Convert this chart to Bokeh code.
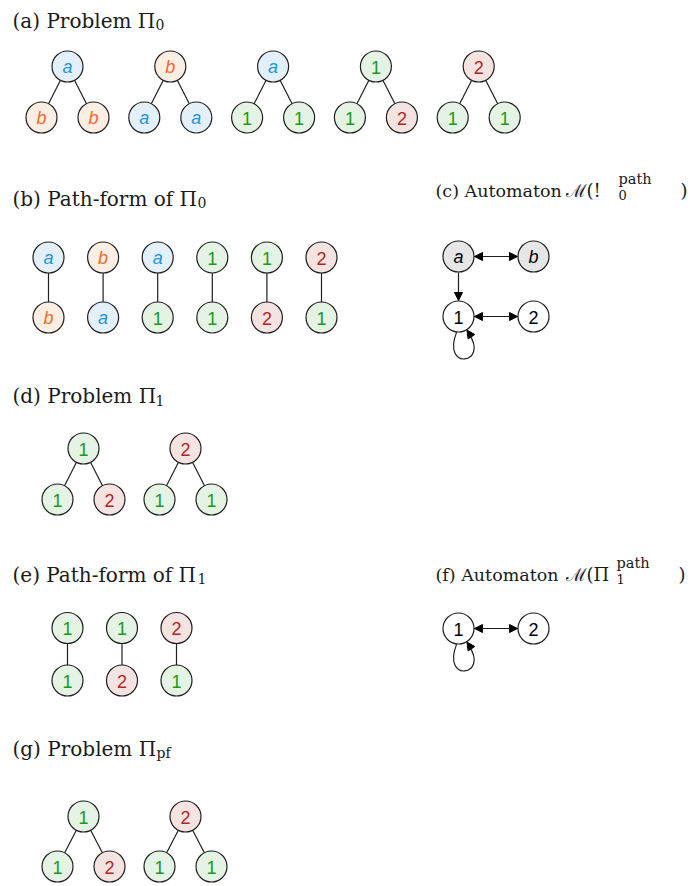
from bokeh.plotting import figure
from bokeh.models import Range1d, Arrow, NormalHead
from bokeh.core.properties import value
from bokeh.embed import file_html
from bokeh.resources import INLINE
import math

# ---------------- data ----------------
# (a) Problem Pi_0 : root / left child / right child
p0_root = ["a", "b", "a", "1", "2"]
p0_left = ["b", "a", "1", "1", "1"]
p0_right = ["b", "a", "1", "2", "1"]
# (b) Path-form of Pi_0
path0_top = ["a", "b", "a", "1", "1", "2"]
path0_bottom = ["b", "a", "1", "1", "2", "1"]
# (d) Problem Pi_1
p1_root = ["1", "2"]
p1_left = ["1", "1"]
p1_right = ["2", "1"]
# (e) Path-form of Pi_1
path1_top = ["1", "1", "2"]
path1_bottom = ["1", "2", "1"]
# (g) Problem Pi_pf
pf_root = ["1", "2"]
pf_left = ["1", "1"]
pf_right = ["2", "1"]
# (c) automaton M(Pi_0^path) and (f) automaton M(Pi_1^path)
m0_nodes = ["a", "b", "1", "2"]
m0_edges = [("a", "b", "both"), ("a", "1", "end"), ("1", "2", "both"), ("1", "1", "loop")]
m1_nodes = ["1", "2"]
m1_edges = [("1", "2", "both"), ("1", "1", "loop")]

titles_left = ["(a) Problem Π", "(b) Path-form of Π", "(d) Problem Π", "(e) Path-form of Π", "(g) Problem Π"]
titles_left_sub = ["0", "0", "1", "1", "pf"]
titles_right_a = ["(c) Automaton", "(f) Automaton"]
titles_right_b = ["ℳ(!", "ℳ(Π"]
titles_right_sup = ["path", "path"]
titles_right_sub = ["0", "1"]

# ---------------- style ----------------
FILL = {"a": "#e3f0fa", "b": "#fdeee3", "1": "#e4f3e4", "2": "#f5e3e1"}
TXT = {"a": "#1f94dc", "b": "#f26a2a", "1": "#1a9a1a", "2": "#b3261e"}
EDGE = "#1e1e1e"
TCOL = "#1a1a1a"
R = 16
NODE_SIZE = 31
LABEL_FONT = value("Liberation Sans")
TITLE_FONT = value("DejaVu Serif")

W, H = 691, 886
p = figure(width=W, height=H, output_backend="svg", toolbar_location=None,
           x_range=Range1d(0, W), y_range=Range1d(H, 0),
           x_axis_type=None, y_axis_type=None, min_border=0,
           background_fill_color="white", border_fill_color="white")
p.outline_line_color = None
p.grid.visible = False


def draw_nodes(xs, ys, labels, fills=None, colors=None):
    fills = fills or [FILL[l] for l in labels]
    colors = colors or [TXT[l] for l in labels]
    p.scatter(xs, ys, size=NODE_SIZE, marker="circle", fill_color=fills,
              line_color=EDGE, line_width=1.2)
    for xx, yy, l, c in zip(xs, ys, labels, colors):
        p.text([xx], [yy + 0.5], text=[l], text_align="center", text_baseline="middle",
               text_font=LABEL_FONT, text_font_size="18px", text_color=c,
               text_font_style="italic" if l.isalpha() else "normal")


def draw_trees(roots, lefts, rights, x0, y0, dx, half, dy):
    rx = [x0 + i * dx for i in range(len(roots))]
    ry = [y0] * len(roots)
    lx = [x - half for x in rx]
    rrx = [x + half for x in rx]
    cy = [y0 + dy] * len(roots)
    p.segment(rx + rx, ry + ry, lx + rrx, cy + cy, line_color=EDGE, line_width=1.2)
    draw_nodes(rx, ry, roots)
    draw_nodes(lx, cy, lefts)
    draw_nodes(rrx, cy, rights)


def draw_paths(tops, bottoms, x0, y0, dx, dy):
    xs = [x0 + i * dx for i in range(len(tops))]
    ty = [y0] * len(tops)
    by = [y0 + dy] * len(tops)
    p.segment(xs, ty, xs, by, line_color=EDGE, line_width=1.2)
    draw_nodes(xs, ty, tops)
    draw_nodes(xs, by, bottoms)


def head():
    return NormalHead(size=8, fill_color="black", line_color="black", line_width=1)


def draw_automaton(nodes, edges, x0, y0, dx, dy):
    pos = {n: (x0 + (i % 2) * dx, y0 + (i // 2) * dy) for i, n in enumerate(nodes)}
    for a, b, kind in edges:
        (xa, ya), (xb, yb) = pos[a], pos[b]
        if kind == "loop":
            s_ang = math.radians(97)
            e_ang = math.radians(58)
            sx, sy = xa + R * math.cos(s_ang), ya + R * math.sin(s_ang)
            ex, ey = xa + R * math.cos(e_ang), ya + R * math.sin(e_ang)
            c0 = (xa - 17, ya + 55)
            c1 = (xa + 31, ya + 47)
            p.bezier(x0=[sx], y0=[sy], x1=[ex + 2], y1=[ey + 4], cx0=[c0[0]], cy0=[c0[1]],
                     cx1=[c1[0]], cy1=[c1[1]], line_color=EDGE, line_width=1.2)
            tx, ty = ex - c1[0], ey - c1[1]
            L = math.hypot(tx, ty)
            p.add_layout(Arrow(end=head(), x_start=ex - 9 * tx / L, y_start=ey - 9 * ty / L,
                               x_end=ex, y_end=ey, line_color=EDGE, line_width=1.2))
            continue
        ux, uy = xb - xa, yb - ya
        L = math.hypot(ux, uy)
        ux, uy = ux / L, uy / L
        p.add_layout(Arrow(start=head() if kind == "both" else None, end=head(),
                           x_start=xa + R * ux, y_start=ya + R * uy,
                           x_end=xb - R * ux, y_end=yb - R * uy,
                           line_color=EDGE, line_width=1.2))
    xs = [pos[n][0] for n in nodes]
    ys = [pos[n][1] for n in nodes]
    fills = ["#e6e6e6" if n.isalpha() else "white" for n in nodes]
    draw_nodes(xs, ys, nodes, fills=fills, colors=["black"] * len(nodes))


def txt(x, y, s, size):
    p.text([x], [y], text=[s], text_font=TITLE_FONT, text_font_size=size,
           text_baseline="alphabetic", text_align="left", text_color=TCOL)


# ---------------- titles ----------------
left_base = [20, 198, 395.5, 574, 748]
left_sub_x = [155, 197, 155, 197, 156]
for t, s, yb, sx in zip(titles_left, titles_left_sub, left_base, left_sub_x):
    txt(12, yb, t, "20px")
    txt(sx, yb + 4, s, "14px")

right_base = [190, 574]
right_sup_x = [618, 616]
right_close_x = [680, 678]
for ta, tb, sp, sb, yb, sx, cx in zip(titles_right_a, titles_right_b, titles_right_sup,
                                      titles_right_sub, right_base, right_sup_x, right_close_x):
    txt(435, yb, ta, "17.5px")
    txt(565, yb, tb, "18px")
    txt(sx, yb - 12, sp, "14.5px")
    txt(sx, yb + 4, sb, "13px")
    txt(cx, yb, ")", "18px")

# ---------------- diagrams ----------------
draw_trees(p0_root, p0_left, p0_right, 67, 66, 102.8, 26, 51)
draw_paths(path0_top, path0_bottom, 48, 257, 54.6, 60)
draw_automaton(m0_nodes, m0_edges, 458, 256, 75, 60)
draw_trees(p1_root, p1_left, p1_right, 83, 448, 102, 26, 51)
draw_paths(path1_top, path1_bottom, 67, 627.5, 54.5, 52.5)
draw_automaton(m1_nodes, m1_edges, 458, 628, 75, 60)
draw_trees(pf_root, pf_left, pf_right, 83, 816, 102, 26, 50)

open("out.html", "w").write(file_html(p, INLINE))
